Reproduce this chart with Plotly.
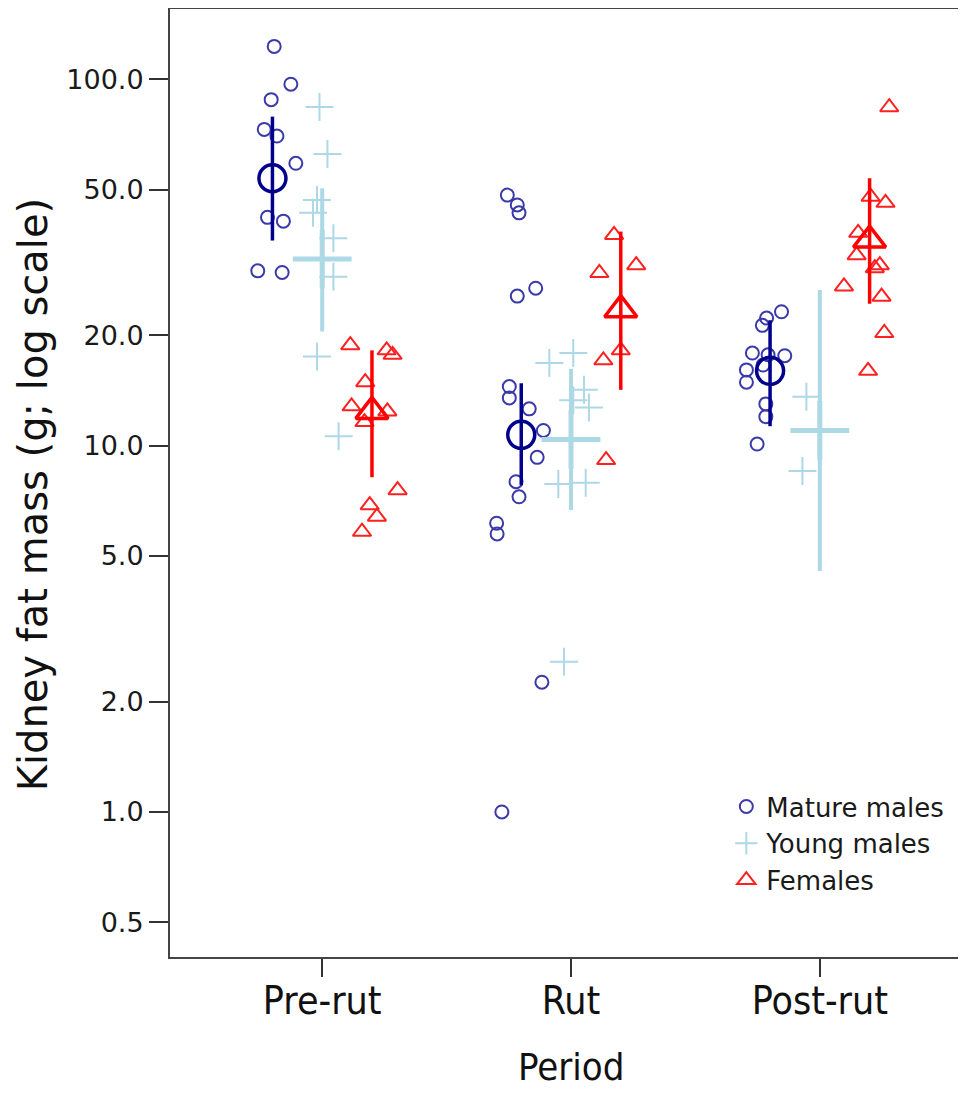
import plotly.graph_objects as go

# ---------------- data ----------------
periods = ["Pre-rut", "Rut", "Post-rut"]
tick_vals = [0.5, 1, 2, 5, 10, 20, 50, 100]
tick_text = ["0.5", "1.0", "2.0", "5.0", "10.0", "20.0", "50.0", "100.0"]

# Mature males: individual values per period + horizontal jitter
mature_pre = [123, 97, 88, 73, 70, 59, 42, 41, 30, 29.7]
mature_pre_jit = [0.007, 0.074, -0.005, -0.033, 0.018, 0.094, -0.020, 0.044, -0.059, 0.039]
mature_rut = [48.3, 45.4, 43.2, 26.9, 25.6, 14.5, 13.5, 12.6, 11.0, 9.29, 7.97, 7.25, 6.14, 5.74, 2.26, 1.0]
mature_rut_jit = [-0.056, -0.016, -0.009, 0.058, -0.016, -0.048, -0.048, 0.032, 0.089, 0.064,
                  -0.021, -0.009, -0.099, -0.097, 0.083, -0.078]
mature_post = [23.2, 22.3, 21.3, 17.9, 17.6, 17.7, 16.6, 16.1, 14.9, 13.0, 12.0, 10.1]
mature_post_jit = [0.046, -0.014, -0.031, -0.071, 0.059, -0.008, -0.028, -0.095, -0.095, -0.017, -0.017, -0.052]

# Young males
young_pre = [84, 62.5, 46.8, 43.2, 36.8, 28.9, 17.5, 10.6]
young_pre_jit = [-0.011, 0.021, -0.021, -0.037, 0.045, 0.045, -0.021, 0.066]
young_rut = [17.9, 16.8, 14.2, 13.3, 12.7, 7.86, 7.92, 2.57]
young_rut_jit = [0.009, -0.087, 0.052, 0.009, 0.072, -0.051, 0.059, -0.028]
young_post = [13.6, 8.52]
young_post_jit = [-0.054, -0.070]

# Females
female_pre = [18.8, 18.2, 17.7, 14.9, 12.8, 12.4, 11.6, 7.56, 6.88, 6.4, 5.82]
female_pre_jit = [-0.087, 0.059, 0.083, -0.027, -0.082, 0.062, -0.030, 0.103, -0.009, 0.020, -0.040]
female_rut = [37.6, 29.6, 31.1, 18.2, 17.1, 9.13]
female_rut_jit = [-0.027, -0.086, 0.062, 0.0, -0.070, -0.059]
female_post = [83.9, 47.8, 46.0, 38.1, 33.1, 31.1, 30.5, 27.2, 25.5, 20.3, 16.0]
female_post_jit = [0.079, 0.004, 0.064, -0.046, -0.052, 0.041, 0.021, -0.103, 0.048, 0.059, -0.006]

# Group means with 95% CI (per period)
mature_mean = [53.7, 10.7, 16.0]
mature_lo = [36.3, 7.8, 11.3]
mature_hi = [79.1, 14.8, 22.0]
young_mean = [32.3, 10.4, 11.0]
young_lo = [20.5, 6.67, 4.55]
young_hi = [50.4, 16.2, 26.6]
female_mean = [12.4, 23.5, 36.4]
female_lo = [8.2, 14.2, 24.4]
female_hi = [18.2, 38.4, 53.7]

# ---------------- styling ----------------
GROUPS = [
    dict(name="Mature males", offset=-0.2,
         vals=[mature_pre, mature_rut, mature_post],
         jit=[mature_pre_jit, mature_rut_jit, mature_post_jit],
         mean=mature_mean, lo=mature_lo, hi=mature_hi,
         symbol="circle-open", size=13, lw=2, color="#3a3aa8",
         msymbol="circle-open", msize=27, mlw=3.5, mcolor="#00008B", ebw=3.5),
    dict(name="Young males", offset=0.0,
         vals=[young_pre, young_rut, young_post],
         jit=[young_pre_jit, young_rut_jit, young_post_jit],
         mean=young_mean, lo=young_lo, hi=young_hi,
         symbol="cross-thin-open", size=20, lw=2, color="#ADD8E6",
         msymbol="cross-thin-open", msize=42, mlw=5, mcolor="#ADD8E6", ebw=4),
    dict(name="Females", offset=0.2,
         vals=[female_pre, female_rut, female_post],
         jit=[female_pre_jit, female_rut_jit, female_post_jit],
         mean=female_mean, lo=female_lo, hi=female_hi,
         symbol="triangle-up-open", size=16, lw=2, color="#FF2020",
         msymbol="triangle-up-open", msize=28, mlw=3.5, mcolor="#FF0000", ebw=3.5),
]

fig = go.Figure()

for i, g in enumerate(GROUPS):
    xs, ys = [], []
    for p, (vals, jit) in enumerate(zip(g["vals"], g["jit"])):
        for v, j in zip(vals, jit):
            xs.append(p + 1 + g["offset"] + j)
            ys.append(v)
    fig.add_trace(go.Scatter(
        x=xs, y=ys, mode="markers", name=g["name"],
        legendgroup=g["name"], legendrank=i,
        marker=dict(symbol=g["symbol"], size=g["size"], color=g["color"],
                    line=dict(width=g["lw"], color=g["color"])),
        hoverinfo="skip"))

for g in GROUPS:
    mx = [p + 1 + g["offset"] for p in range(len(periods))]
    fig.add_trace(go.Scatter(
        x=mx, y=g["mean"], mode="markers", showlegend=False,
        marker=dict(symbol=g["msymbol"], size=g["msize"], color=g["mcolor"],
                    line=dict(width=g["mlw"], color=g["mcolor"])),
        error_y=dict(type="data", symmetric=False,
                     array=[h - m for h, m in zip(g["hi"], g["mean"])],
                     arrayminus=[m - l for m, l in zip(g["mean"], g["lo"])],
                     color=g["mcolor"], thickness=g["ebw"], width=0),
        hoverinfo="skip"))

COND = "DejaVu Sans Condensed, Liberation Sans Narrow, Liberation Sans"

fig.update_layout(
    width=950, height=1086,
    margin=dict(l=162, r=0, t=1, b=137),
    paper_bgcolor="white", plot_bgcolor="white",
    showlegend=True,
    legend=dict(x=0.706, y=0.1835, xanchor="left", yanchor="top",
                font=dict(family="DejaVu Sans", size=26, color="#1a1a1a"),
                bgcolor="rgba(0,0,0,0)", tracegroupgap=0, itemwidth=30,
                traceorder="grouped"),
    font=dict(family="DejaVu Sans", color="#222"),
)

fig.update_xaxes(
    range=[0.3883, 3.5553], tickvals=[1, 2, 3], ticktext=periods,
    ticks="outside", ticklen=18, tickwidth=1.5, tickcolor="#333",
    showline=True, linecolor="#444", linewidth=2, mirror=True,
    showgrid=False, zeroline=False, ticklabelstandoff=-10,
    tickfont=dict(family=COND, size=39, color="#111"),
)
fig.update_yaxes(
    type="log", range=[-0.396, 2.192],
    tickvals=tick_vals, ticktext=tick_text,
    ticks="outside", ticklen=19, tickwidth=1.5, tickcolor="#333",
    showline=True, linecolor="#444", linewidth=2, mirror=False,
    showgrid=False, zeroline=False,
    tickfont=dict(family="DejaVu Sans", size=27, color="#1a1a1a"),
)

fig.add_annotation(
    text="Kidney fat mass (g; log scale)", textangle=-90,
    xref="paper", yref="paper", x=-0.1739, y=0.488, xanchor="center", yanchor="middle",
    showarrow=False,
    font=dict(family="DejaVu Sans", size=40, color="#111"))
fig.add_annotation(
    text="Period", xref="paper", yref="paper", x=0.509, y=-0.116,
    xanchor="center", yanchor="middle", showarrow=False,
    font=dict(family=COND, size=38, color="#111"))

fig.write_html("out.html")
